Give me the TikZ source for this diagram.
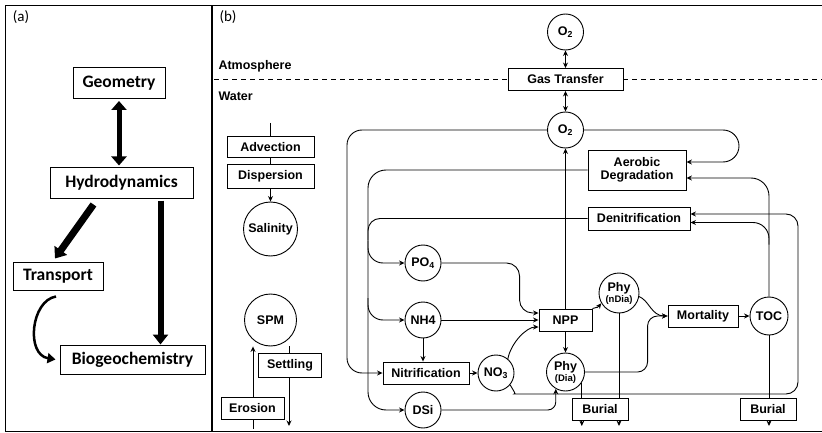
\documentclass[tikz,border=0pt]{standalone}
\usepackage{fontspec}
\setmainfont{Liberation Sans}
\newfontfamily\calib{Carlito}
\usetikzlibrary{arrows.meta, positioning, calc}
\tikzset{
        tbox/.style={rectangle, draw, line width=1pt, inner sep=0pt, font=\calib\bfseries\fontsize{17.5}{20}\selectfont},
        proc/.style={rectangle, draw, fill=white, line width=0.9pt, inner sep=0pt, minimum height=22pt, align=center, font=\bfseries\fontsize{12.5}{13}\selectfont},
        pool/.style={circle, draw, fill=white, line width=0.9pt, inner sep=0pt, minimum size=36pt, align=center, font=\bfseries\fontsize{12.5}{13}\selectfont},
        tag/.style={font=\calib\fontsize{15}{18}\selectfont},
        layer/.style={anchor=west, font=\bfseries\fontsize{12.5}{14}\selectfont},
        line/.style={line width=0.9pt},
        arr/.style={-{Stealth[length=5.5pt,width=5pt]}, line width=0.9pt},
        dblarr/.style={{Stealth[length=5.5pt,width=5pt]}-{Stealth[length=5.5pt,width=5pt]}, line width=0.9pt},
        bigarr/.style={-{Triangle[length=10pt,width=15pt]}, line width=6pt},
        bigdbl/.style={{Triangle[length=9pt,width=15pt]}-{Triangle[length=9pt,width=15pt]}, line width=5pt},
    }
\begin{document}
\begin{tikzpicture}[x=1pt, y=-1pt]
        \useasboundingbox (0,0) rectangle (822,433);

        % Frame
        \draw[line width=1.3pt] (822,5.5) -- (5.5,5.5) -- (5.5,431.5) -- (822,431.5);
        \draw[line width=1.3pt] (212,5.5) -- (212,431.5);

        % PANEL (a)
        \node[tag] (la) at (21,17) {(a)};
        \node[tbox, minimum width=92pt, minimum height=31pt] (geom) at (119,83) {Geometry};
        \node[tbox, minimum width=143pt, minimum height=30pt] (hydro) at (121.5,183) {Hydrodynamics};
        \node[tbox, minimum width=90pt, minimum height=28pt] (transp) at (58,276) {Transport};
        \node[tbox, minimum width=145pt, minimum height=29pt] (biogeo) at (132.5,359.5) {Biogeochemistry};

        \coordinate (hb) at ($(hydro.south east)+(-33,2)$);
        \draw[bigdbl, shorten <=2pt, shorten >=2pt] (geom.south) -- (geom.south |- hydro.north);
        \draw[bigarr, line width=7pt] ($(hydro.south)+(-28,6)$) -- ($(transp.north)+(-3,-3)$);
        \draw[bigarr] (hb) -- (hb |- biogeo.north);
        \draw[-{Triangle[length=8pt,width=10pt]}, line width=2.5pt] ($(transp.south)+(-2,6)$) .. controls +(-25,4) and +(-30,-5) .. ($(biogeo.west)+(-4,0)$);

        % PANEL (b)
        \node[tag] (lb) at (228,17) {(b)};
        \node[layer] (atm) at (215,66) {Atmosphere};
        \node[layer] (wat) at (215,96) {Water};

        % Gas exchange
        \node[pool] (o2top) at (565.5,32) {O\textsubscript{2}};
        \node[proc, minimum width=115pt] (gas) at (565.5,79.5) {Gas Transfer};
        \node[pool] (o2) at (565.5,130) {O\textsubscript{2}};

        % Transport side
        \node[proc, minimum width=87pt, minimum height=21pt] (adv) at (270.5,147) {Advection};
        \node[proc, minimum width=87pt, minimum height=24pt] (disp) at (270.5,176) {Dispersion};
        \node[pool, minimum size=54pt] (sal) at (270.5,229) {Salinity};
        \node[pool, minimum size=52pt] (spm) at (270.5,320) {SPM};
        \node[proc, minimum width=63pt, minimum height=24pt] (settl) at (290,365) {Settling};
        \node[proc, minimum width=63pt] (eros) at (252.5,408) {Erosion};

        % Biogeochemistry
        \node[proc, minimum width=98pt, minimum height=40pt] (aerob) at (637,170) {Aerobic\\Degradation};
        \node[proc, minimum width=102pt, minimum height=23pt] (denit) at (639,218.5) {Denitrification};
        \node[pool] (po4) at (423,263) {PO\textsubscript{4}};
        \node[pool] (nh4) at (423,320) {NH4};
        \node[proc, minimum width=86pt] (nitri) at (426,373) {Nitrification};
        \node[pool] (no3) at (496,373) {NO\textsubscript{3}};
        \node[pool] (dsi) at (423,410) {DSi};
        \node[proc, minimum width=53pt] (npp) at (565.5,320) {NPP};
        \node[pool, minimum size=38pt] (phyd) at (565.5,372) {Phy\\[-2pt]{\fontsize{9.5}{10}\selectfont(Dia)}};
        \node[pool, minimum size=40pt] (phyn) at (619,293) {Phy\\[-2pt]{\fontsize{9.5}{10}\selectfont(nDia)}};
        \node[proc, minimum width=70pt] (mort) at (703,316) {Mortality};
        \node[pool, minimum size=38pt] (toc) at (769,316) {TOC};
        \node[proc, minimum width=56pt] (bur1) at (600,409) {Burial};
        \node[proc, minimum width=56pt] (bur2) at (768,409) {Burial};

        % Interface
        \coordinate (dl) at (214,79.5);
        \coordinate (dr) at (822,79.5);
        \draw[line, dashed, dash pattern=on 5pt off 4pt] (dl) -- (gas.west);
        \draw[line, dashed, dash pattern=on 5pt off 4pt] (gas.east) -- (dr);
        \draw[dblarr] (o2top) -- (gas);
        \draw[dblarr] (gas) -- (o2);

        % Salinity and SPM
        \coordinate (advtop) at (270.5,123);
        \coordinate (erosbot) at (253,429);
        \coordinate (settlbot) at (289,426);
        \draw[line] (advtop) -- (adv);
        \draw[line] (adv) -- (disp);
        \draw[arr] (disp) -- (sal);
        \draw[line] (erosbot) -- (erosbot |- eros.south);
        \draw[arr] (erosbot |- eros.north) -- (erosbot |- spm.south);
        \draw[line] (settlbot |- spm.south) -- (settlbot |- settl.north);
        \draw[arr] (settlbot |- settl.south) -- (settlbot);

        % Oxygen loops
        \coordinate (outer) at (347,130);
        \coordinate (o2r) at (739,130);
        \draw[arr, rounded corners=15pt] (o2.west) -- (outer) -- (outer |- nitri.west) -- (nitri.west);
        \draw[arr, rounded corners=16pt] (o2.east) -- (o2r) -- ++(0,32) -- ($(aerob.east)+(0,-8)$);
        \draw[arr] (npp) -- (o2);

        % Remineralisation trunk
        \coordinate (trunk) at (368,170);
        \draw[arr, rounded corners=18pt] (aerob.west) -- (trunk) -- (trunk |- dsi.west) -- (dsi.west);
        \draw[line, rounded corners=12pt] (denit.west) -- (trunk |- denit.west) -- ++(0,22);
        \draw[arr, rounded corners=15pt] ($(trunk |- po4.west)+(0,-22)$) -- (trunk |- po4.west) -- (po4.west);
        \draw[arr, rounded corners=15pt] ($(trunk |- nh4.west)+(0,-22)$) -- (trunk |- nh4.west) -- (nh4.west);

        % Nutrients
        \draw[arr, rounded corners=13pt] (po4.east) -| ($(npp.west)+(-19,-7)$) -- ($(npp.west)+(0,-7)$);
        \draw[arr] (nh4.east) -- (nh4.east -| npp.west);
        \draw[arr] (no3.50) .. controls +(3,-16) and +(-12,0) .. ($(npp.west)+(0,7)$);
        \draw[arr] (nh4) -- (nh4 |- nitri.north);
        \draw[arr] (nitri) -- (no3);
        \draw[arr, rounded corners=8pt] (dsi.east) -| (phyd.-120);

        % Denitrification inputs
        \coordinate (loopr) at (798,394);
        \draw[arr, rounded corners=12pt] (no3.-40) .. controls +(4,7) and +(-10,0) .. ($(no3.-40 |- loopr)+(16,0)$) -- (loopr) -- ($(loopr |- denit.east)+(0,-4.5)$) -- ($(denit.east)+(0,-4.5)$);
        \draw[arr, rounded corners=18pt] (toc.north) -- ($(toc.north |- aerob.east)+(0,8)$) -- ($(aerob.east)+(0,8)$);
        \draw[arr, rounded corners=16pt] ($(toc.north |- denit.east)+(0,26)$) -- ($(toc.north |- denit.east)+(0,4)$) -- ($(denit.east)+(0,4)$);

        % Phytoplankton
        \draw[arr] (npp) -- (phyd);
        \draw[arr] (npp.north east) .. controls +(6,-2) and +(-4,5) .. (phyn.-150);
        \draw[arr] (phyn.-10) .. controls +(10,4) and +(-16,0) .. (mort.west);
        \draw[arr, rounded corners=10pt] (phyd.east) -| ($(mort.west)+(-20,0)$) -- (mort.west);
        \draw[arr] (mort) -- (toc);

        % Burial
        \coordinate (bot) at (0,426);
        \draw[line] (phyd.-33) -- (phyd.-33 |- bur1.north);
        \draw[arr] (phyd.-33 |- bur1.south) -- (phyd.-33 |- bot);
        \draw[line] (phyn.south) -- (phyn.south |- bur1.north);
        \draw[arr] (phyn.south |- bur1.south) -- (phyn.south |- bot);
        \draw[line] (toc.south) -- (toc.south |- bur2.north);
        \draw[arr] (toc.south |- bur2.south) -- (toc.south |- bot);

    \end{tikzpicture}
\end{document}
